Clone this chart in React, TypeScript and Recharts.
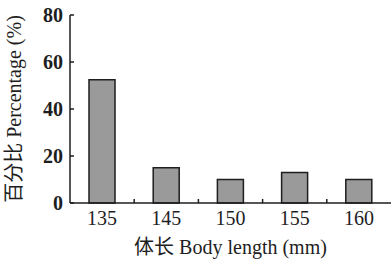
import { Bar, BarChart, XAxis, YAxis } from "recharts";

const lengths = ["135", "145", "150", "155", "160"];
const percentages = [52.5, 15, 10, 13, 10];
const yTicks = [0, 20, 40, 60, 80];

const xTitle = "体长 Body length (mm)";
const yTitle = "百分比 Percentage (%)";

const data = lengths.map((length, i) => ({ length, pct: percentages[i] }));

const serif = "'Liberation Serif', 'Noto Sans CJK SC', serif";
const ink = "#1e1e1e";
const X_TICK_SIZE = 4;
const X_TICK_MARGIN = 4;

// label under the band centre, plus a short inward mark on the band's left edge
function LengthTick({ x, y, payload, index }: any) {
  const axisY = y - X_TICK_SIZE - X_TICK_MARGIN;
  const edge = x - (payload.offset ?? 0);
  return (
    <g>
      {index > 0 && (
        <line x1={edge} x2={edge} y1={axisY} y2={axisY - 4} stroke={ink} strokeWidth={1.5} />
      )}
      <text
        x={x}
        y={y}
        dy="0.71em"
        textAnchor="middle"
        fontFamily={serif}
        fontSize={20}
        fill={ink}
      >
        {payload.value}
      </text>
    </g>
  );
}

function YTitle({ viewBox }: any) {
  const cx = viewBox.x + 14;
  const cy = viewBox.y + viewBox.height / 2;
  return (
    <text
      x={cx}
      y={cy}
      transform={`rotate(-90 ${cx} ${cy})`}
      textAnchor="middle"
      dominantBaseline="central"
      fontFamily={serif}
      fontSize={20}
      fill={ink}
    >
      {yTitle}
    </text>
  );
}

export default function App() {
  return (
    <div style={{ position: "absolute", left: 0, top: 0, background: "#fff" }}>
      <BarChart
        width={391}
        height={261}
        data={data}
        margin={{ top: 15, right: 0, bottom: 0, left: 0 }}
        barCategoryGap={0}
      >
        <XAxis
          dataKey="length"
          height={58}
          padding={{ left: 0, right: 0 }}
          axisLine={{ stroke: ink, strokeWidth: 1.5 }}
          tickLine={false}
          tickSize={X_TICK_SIZE}
          tickMargin={X_TICK_MARGIN}
          interval={0}
          tick={<LengthTick />}
          label={{
            value: xTitle,
            position: "insideBottom",
            offset: 7,
            fontFamily: serif,
            fontSize: 20,
            fill: ink,
          }}
        />
        <YAxis
          width={70}
          domain={[0, 80]}
          ticks={yTicks}
          interval={0}
          axisLine={{ stroke: ink, strokeWidth: 1.5 }}
          tickLine={{ stroke: ink, strokeWidth: 1.5 }}
          tickSize={-4}
          tickMargin={11}
          tick={{ fontFamily: serif, fontSize: 20, fontWeight: 700, fill: ink }}
          label={<YTitle />}
        />
        <Bar
          dataKey="pct"
          barSize={26}
          fill="#9a9a9a"
          stroke={ink}
          strokeWidth={1.5}
          isAnimationActive={false}
        />
      </BarChart>
    </div>
  );
}
